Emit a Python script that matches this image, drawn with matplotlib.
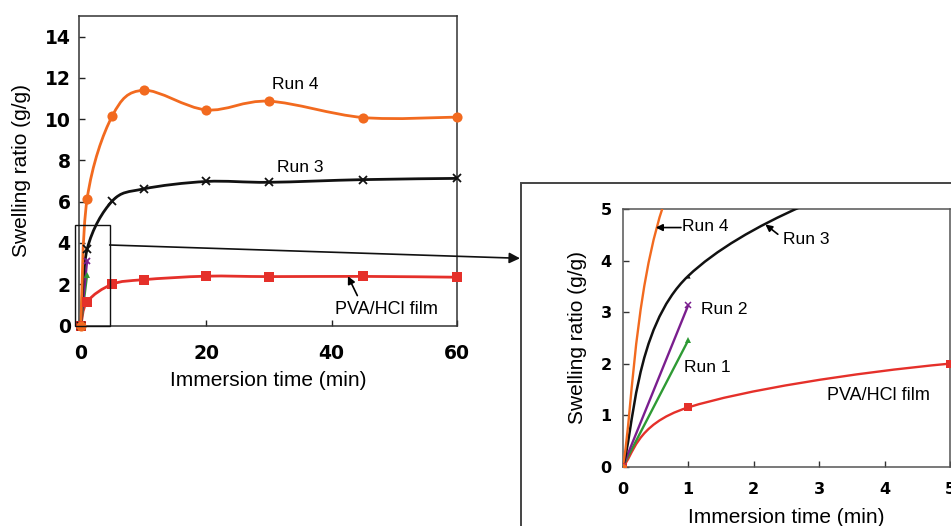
import numpy as np
import matplotlib
matplotlib.use("Agg")
import matplotlib.pyplot as plt
from matplotlib.path import Path
from matplotlib.patches import PathPatch, Rectangle

# ---------------- data ----------------
time_min = [0, 1, 5, 10, 20, 30, 45, 60]
run4 = [0, 6.15, 10.15, 11.4, 10.45, 10.87, 10.08, 10.1]
run3 = [0, 3.7, 6.03, 6.62, 6.98, 6.94, 7.07, 7.13]
pva_film = [0, 1.15, 2.0, 2.22, 2.39, 2.37, 2.38, 2.34]
time_short = [0, 1]
run2 = [0, 3.13]
run1 = [0, 2.45]

xticks_main = [0, 20, 40, 60]
yticks_main = [0, 2, 4, 6, 8, 10, 12, 14]
ticks_inset = [0, 1, 2, 3, 4, 5]

c_orange = '#F26A1F'
c_black = '#111111'
c_red = '#E5302A'
c_purple = '#7A1E8E'
c_green = '#2E9A34'

label_font = 'Liberation Sans'
tick_font = 'DejaVu Sans'


def smooth_path(xs, ys):
    pts = np.column_stack([xs, ys]).astype(float)
    n = len(pts)
    verts = [pts[0]]
    codes = [Path.MOVETO]
    for i in range(n - 1):
        p0 = pts[i - 1] if i > 0 else pts[i]
        p1 = pts[i]
        p2 = pts[i + 1]
        p3 = pts[i + 2] if i + 2 < n else pts[i + 1]
        verts += [p1 + (p2 - p0) / 6.0, p2 - (p3 - p1) / 6.0, p2]
        codes += [Path.CURVE4] * 3
    return Path(verts, codes)


def draw_series(ax, xs, ys, color, marker, ms, lw, mew=1.0):
    ax.add_patch(PathPatch(smooth_path(xs, ys), fill=False, edgecolor=color,
                           lw=lw, capstyle='round', joinstyle='round', zorder=3))
    if marker in ('x',):
        ax.plot(xs, ys, linestyle='none', marker=marker, ms=ms, mew=mew,
                color=color, zorder=4, clip_on=False)
    else:
        ax.plot(xs, ys, linestyle='none', marker=marker, ms=ms, mew=0,
                color=color, zorder=4, clip_on=False)


fig = plt.figure(figsize=(9.51, 5.26), dpi=100)

# ---------------- main axes ----------------
ax = fig.add_axes([79 / 951, 1 - 325.5 / 526, 378 / 951, 309.5 / 526])
draw_series(ax, time_min, pva_film, c_red, 's', 6.8, 2.0)
draw_series(ax, time_short, run1, c_green, '^', 5, 1.6)
draw_series(ax, time_short, run2, c_purple, 'x', 5, 1.6, mew=1.3)
draw_series(ax, time_min, run3, c_black, 'x', 5.5, 2.0, mew=1.3)
draw_series(ax, time_min, run4, c_orange, 'o', 7.3, 2.0)

ax.set_xlim(-0.3, 60)
ax.set_ylim(0, 15)
ax.set_xticks(xticks_main)
ax.set_yticks(yticks_main)
ax.tick_params(direction='in', length=4, width=1, colors='#222222')
ax.tick_params(axis='x', pad=13)
ax.tick_params(axis='y', pad=6)
for lab in ax.get_xticklabels() + ax.get_yticklabels():
    lab.set_fontfamily(tick_font)
    lab.set_fontweight('bold')
    lab.set_fontsize(13.5)
    lab.set_color('black')
for s in ax.spines.values():
    s.set_linewidth(1.1)
    s.set_color('#333333')
ax.set_xlabel('Immersion time (min)', fontfamily=label_font, fontsize=15, labelpad=6)
ax.set_ylabel('Swelling ratio (g/g)', fontfamily=label_font, fontsize=15, labelpad=10)

ax.text(34.2, 11.69, 'Run 4', fontfamily=label_font, fontsize=12.5, ha='center', va='center')
ax.text(35.0, 7.65, 'Run 3', fontfamily=label_font, fontsize=12.5, ha='center', va='center')
ax.text(48.7, 0.77, 'PVA/HCl film', fontfamily=label_font, fontsize=13, ha='center', va='center')
ax.annotate('', xy=(42.6, 2.39), xytext=(44.1, 1.45),
            arrowprops=dict(arrowstyle='-|>', color='black', lw=1.2, mutation_scale=11,
                            shrinkA=0, shrinkB=0))

# zoom box
ax.add_patch(Rectangle((-1.0, -0.03), 5.6, 4.88, fill=False, edgecolor='#111111',
                       lw=1.0, clip_on=False, zorder=5))

# connecting arrow
fig.add_artist(matplotlib.patches.FancyArrowPatch(
    (109.7 / 951, 1 - 245 / 526), (520 / 951, 1 - 258.3 / 526),
    transform=fig.transFigure, arrowstyle='-|>', mutation_scale=16,
    color='#111111', lw=1.2, shrinkA=0, shrinkB=0, zorder=10))

# inset frame
fig.add_artist(Rectangle((520.7 / 951, -0.1), 0.6, 1.1 - 183.3 / 526, fill=False,
                         edgecolor='#444444', lw=1.4, transform=fig.transFigure,
                         clip_on=False))

# ---------------- inset axes ----------------
ai = fig.add_axes([622.7 / 951, 1 - 466.7 / 526, 327.3 / 951, 257.7 / 526])
draw_series(ai, time_min, pva_film, c_red, 's', 5.5, 1.7)
draw_series(ai, time_short, run1, c_green, '^', 4.5, 1.7)
draw_series(ai, time_short, run2, c_purple, 'x', 5, 1.7, mew=1.1)
draw_series(ai, time_min, run3, c_black, '^', 3, 1.8)
draw_series(ai, time_min, run4, c_orange, 'o', 5, 1.7)
for ln in ai.lines:
    ln.set_clip_on(True)

ai.set_xlim(0, 5)
ai.set_ylim(0, 5)
ai.set_xticks(ticks_inset)
ai.set_yticks(ticks_inset)
ai.tick_params(direction='in', length=4, width=1, colors='#333333')
ai.tick_params(axis='x', pad=11)
ai.tick_params(axis='y', pad=8)
for lab in ai.get_xticklabels() + ai.get_yticklabels():
    lab.set_fontfamily(tick_font)
    lab.set_fontweight('bold')
    lab.set_fontsize(11.5)
    lab.set_color('black')
for s in ai.spines.values():
    s.set_linewidth(1.1)
    s.set_color('#555555')
ai.set_xlabel('Immersion time (min)', fontfamily=label_font, fontsize=15, labelpad=8)
ai.set_ylabel('Swelling ratio (g/g)', fontfamily=label_font, fontsize=15, labelpad=10)

ai.text(1.26, 4.66, 'Run 4', fontfamily=label_font, fontsize=12.5, ha='center', va='center')
ai.annotate('', xy=(0.505, 4.64), xytext=(0.89, 4.64),
            arrowprops=dict(arrowstyle='-|>', color='black', lw=1.2, mutation_scale=10,
                            shrinkA=0, shrinkB=0))
ai.text(2.81, 4.41, 'Run 3', fontfamily=label_font, fontsize=12.5, ha='center', va='center')
ai.annotate('', xy=(2.18, 4.70), xytext=(2.37, 4.51),
            arrowprops=dict(arrowstyle='-|>', color='black', lw=1.2, mutation_scale=10,
                            shrinkA=0, shrinkB=0))
ai.text(1.545, 3.05, 'Run 2', fontfamily=label_font, fontsize=12.5, ha='center', va='center')
ai.text(1.29, 1.92, 'Run 1', fontfamily=label_font, fontsize=12.5, ha='center', va='center')
ai.text(3.90, 1.375, 'PVA/HCl film', fontfamily=label_font, fontsize=13, ha='center', va='center')

fig.savefig('out.png', dpi=100)
